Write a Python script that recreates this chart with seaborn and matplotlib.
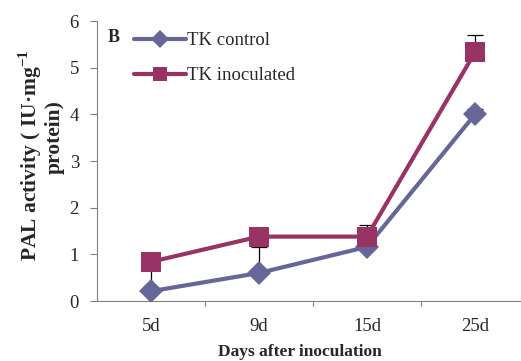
import matplotlib
matplotlib.use("Agg")
import matplotlib.pyplot as plt
from matplotlib.lines import Line2D
import seaborn as sns
import pandas as pd

days = ["5d", "9d", "15d", "25d"]
control = [0.21, 0.60, 1.16, 4.00]
control_err = [0.62, 0.55, 0.02, 0.12]
inoculated = [0.84, 1.38, 1.38, 5.33]
inoculated_err = [0.02, 0.02, 0.24, 0.36]
y_ticks = [0, 1, 2, 3, 4, 5, 6]

sns.set_theme(style="white")
plt.rcParams["font.family"] = ["Liberation Serif", "DejaVu Serif"]

c_ctrl = "#666699"
c_inoc = "#993366"

fig = plt.figure(figsize=(5.21, 3.61), dpi=100)
ax = fig.add_axes([97 / 521, 60 / 361, 432 / 521, 280 / 361])

df = pd.DataFrame({
    "pos": list(range(len(days))) * 2,
    "value": control + inoculated,
    "series": ["TK control"] * 4 + ["TK inoculated"] * 4,
})

# upper-only error bars behind the markers
x = list(range(len(days)))
ax.errorbar(x, control, yerr=[[0] * 4, control_err], fmt="none",
            ecolor="black", elinewidth=0.9, capsize=6, capthick=0.9, zorder=1)
ax.errorbar(x, inoculated, yerr=[[0] * 4, inoculated_err], fmt="none",
            ecolor="black", elinewidth=0.9, capsize=6, capthick=0.9, zorder=1)

sns.lineplot(data=df[df.series == "TK control"], x="pos", y="value", ax=ax,
             color=c_ctrl, linewidth=3, marker="D", markersize=12,
             markeredgewidth=0, zorder=3, legend=False)
sns.lineplot(data=df[df.series == "TK inoculated"], x="pos", y="value", ax=ax,
             color=c_inoc, linewidth=3, marker="s", markersize=15,
             markeredgewidth=0, zorder=4, legend=False)

ax.set_xlim(-0.5, 3.5)
ax.set_ylim(0, 6)
ax.set_yticks(y_ticks)
ax.set_yticklabels([str(t) for t in y_ticks], fontsize=13.5)
ax.set_xticks(x)
ax.set_xticklabels(days, fontsize=13.5)
ax.tick_params(axis="x", length=0, pad=12)
ax.tick_params(axis="y", left=True, length=5, width=0.8, color="#808080", pad=8)
for b in [0.5, 1.5, 2.5]:
    ax.plot([b, b], [0, -0.1], color="#808080", lw=0.8, clip_on=False)

for side in ["top", "right"]:
    ax.spines[side].set_visible(False)
for side in ["left", "bottom"]:
    ax.spines[side].set_color("#808080")
    ax.spines[side].set_linewidth(0.8)

ax.set_xlabel("")
ax.set_ylabel("")
fig.text(300 / 521, 1 - 352 / 361, "Days after inoculation", fontsize=12.5,
         fontweight="bold", ha="center", va="center")
fig.text(30 / 521, 1 - 155 / 361, "PAL activity ( IU·mg$^{\\mathregular{-1}}$",
         fontsize=15.5, fontweight="bold", rotation=90, ha="center", va="center")
fig.text(55 / 521, 1 - 137 / 361, "protein)", fontsize=15.5,
         fontweight="bold", rotation=90, ha="center", va="center")
fig.text(114 / 521, 1 - 38 / 361, "B", fontsize=13, fontweight="bold",
         ha="center", va="center")

handles = [
    Line2D([], [], color=c_ctrl, lw=3, marker="D", markersize=9, markeredgewidth=0),
    Line2D([], [], color=c_inoc, lw=3, marker="s", markersize=10, markeredgewidth=0),
]
ax.legend(handles, ["TK control", "TK inoculated"], loc="upper left",
          bbox_to_anchor=(20 / 432, 1.02), frameon=False, fontsize=13.5,
          handlelength=2.8, handletextpad=0.05, labelspacing=0.95)

fig.savefig("out.png", dpi=100)
